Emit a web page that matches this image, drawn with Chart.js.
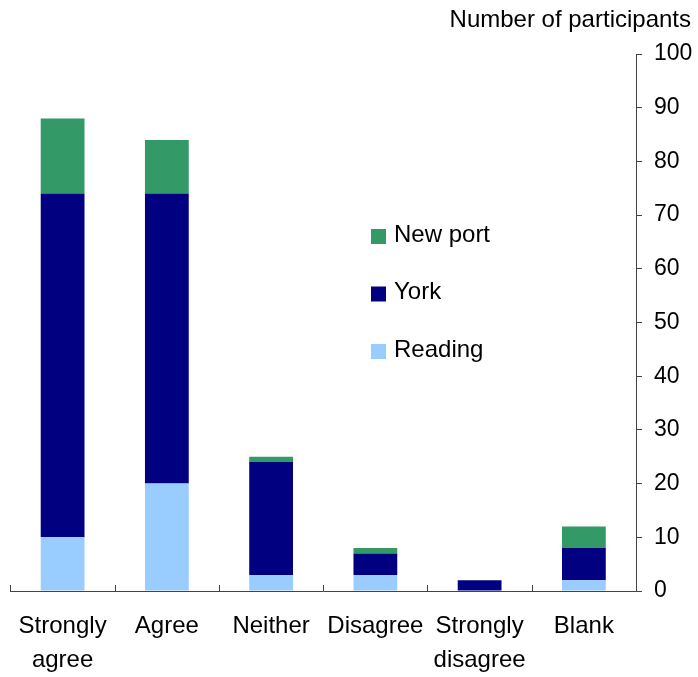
<!DOCTYPE html>
<html>
<head>
<meta charset="utf-8">
<script src="https://cdn.jsdelivr.net/npm/chart.js@4.4.1/dist/chart.umd.min.js"></script>
<style>
    html, body { margin: 0; padding: 0; background: #fff; }
    #wrap { width: 698px; height: 677px; position: relative; }
</style>
</head>
<body>
<div id="wrap"><canvas id="chart"></canvas></div>
<script>
// Survey responses, stacked by site
const categories = [['Strongly', 'agree'], 'Agree', 'Neither', 'Disagree', ['Strongly', 'disagree'], 'Blank'];
const reading = [10, 20, 3, 3, 0, 2];
const york = [64, 54, 21, 4, 2, 6];
const newport = [14, 10, 1, 1, 0, 4];
const yTicks = [0, 10, 20, 30, 40, 50, 60, 70, 80, 90, 100];
const yTitle = 'Number of participants';

const FONT = 'Arial, "Liberation Sans", sans-serif';
const AXIS = '#444';

// zero segments are left out so no hairline shows at the base
const noZero = arr => arr.map(v => (v === 0 ? null : v));

// legend drawn by hand inside the plot, top entry first
const legendPlugin = {
    id: 'manualLegend',
    afterDraw(chart) {
        const ctx = chart.ctx;
        const items = chart.data.datasets.slice().reverse();
        ctx.save();
        ctx.font = '24px ' + FONT;
        ctx.textBaseline = 'middle';
        items.forEach((ds, i) => {
            const y = 236 + i * 57.5;
            ctx.fillStyle = ds.backgroundColor;
            ctx.fillRect(371, y - 7, 15, 15);
            ctx.fillStyle = '#000';
            ctx.fillText(ds.label, 394, y - 1);
        });
        // axis title, top right
        ctx.textAlign = 'right';
        ctx.fillText(yTitle, 691, 20);
        ctx.restore();
    }
};

// x axis: ticks between categories pointing up into the plot
const xTickPlugin = {
    id: 'xInnerTicks',
    afterDraw(chart) {
        const x = chart.scales.x;
        const ctx = chart.ctx;
        const step = x.getPixelForValue(1) - x.getPixelForValue(0);
        ctx.save();
        ctx.strokeStyle = AXIS;
        ctx.lineWidth = 1;
        ctx.beginPath();
        for (let i = 0; i < categories.length; i++) {
            const px = Math.round(x.getPixelForValue(i) - step / 2) + 0.5;
            ctx.moveTo(px, x.top);
            ctx.lineTo(px, x.top - 6);
        }
        ctx.stroke();
        ctx.restore();
    }
};

new Chart(document.getElementById('chart'), {
    type: 'bar',
    data: {
        labels: categories,
        datasets: [
            { label: 'Reading', data: noZero(reading), backgroundColor: '#99CCFF' },
            { label: 'York', data: noZero(york), backgroundColor: '#000080' },
            { label: 'New port', data: noZero(newport), backgroundColor: '#339966' }
        ]
    },
    options: {
        responsive: true,
        maintainAspectRatio: false,
        animation: false,
        layout: { padding: { left: 7, top: 54, right: 0, bottom: 0 } },
        datasets: { bar: { categoryPercentage: 1, barPercentage: 0.42 } },
        plugins: {
            legend: { display: false },
            tooltip: { enabled: false }
        },
        scales: {
            x: {
                stacked: true,
                grid: { display: false, drawTicks: false },
                border: { color: AXIS },
                ticks: {
                    color: '#000',
                    padding: 18,
                    maxRotation: 0,
                    autoSkip: false,
                    font: { family: FONT, size: 24, lineHeight: 1.42 }
                },
                afterFit: s => { s.height = 86; }
            },
            y: {
                stacked: true,
                position: 'right',
                min: 0,
                max: 100,
                afterBuildTicks: s => { s.ticks = yTicks.map(v => ({ value: v })); },
                grid: { drawOnChartArea: false, tickLength: 6, color: AXIS },
                border: { color: AXIS },
                ticks: {
                    color: '#000',
                    padding: 12,
                    font: { family: FONT, size: 23 }
                },
                afterFit: s => { s.width = 62; }
            }
        }
    },
    plugins: [legendPlugin, xTickPlugin]
});
</script>
</body>
</html>
